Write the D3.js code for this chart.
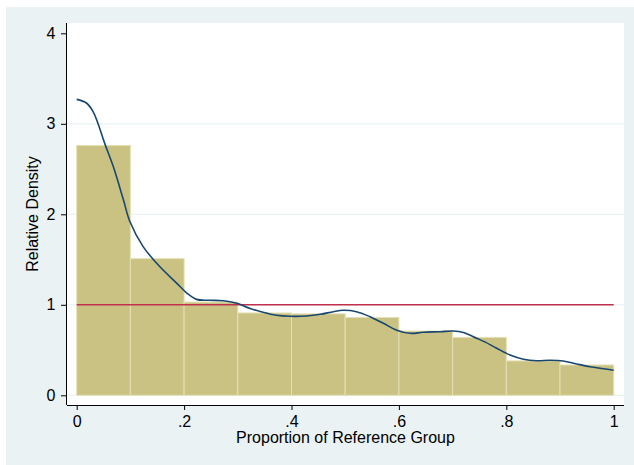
<!DOCTYPE html>
<html>
<head>
<meta charset="utf-8">
<script src="https://cdn.jsdelivr.net/npm/d3@7"></script>
<style>
  body { margin: 0; background: #fff; }
  text { font-family: "Liberation Sans", Arial, sans-serif; fill: #000; }
  .axis path, .axis line { stroke: #000; }
</style>
</head>
<body>
<svg width="634" height="465"></svg>
<script>
// histogram bins (left edge) and heights
var binStart = [0, 0.1, 0.2, 0.3, 0.4, 0.5, 0.6, 0.7, 0.8, 0.9];
var binHeight = [2.76, 1.51, 1.03, 0.91, 0.90, 0.86, 0.71, 0.64, 0.38, 0.335];

// relative density curve
var densX = [0, 0.018, 0.031, 0.053, 0.068, 0.087, 0.099, 0.124, 0.155, 0.186,
  0.205, 0.223, 0.248, 0.273, 0.298, 0.323, 0.347, 0.372, 0.397, 0.428,
  0.454, 0.478, 0.496, 0.521, 0.546, 0.571, 0.596, 0.621, 0.645, 0.677,
  0.701, 0.72, 0.745, 0.76, 0.782, 0.807, 0.832, 0.857, 0.881, 0.906,
  0.931, 0.956, 0.981, 1];
var densY = [3.27, 3.23, 3.13, 2.77, 2.53, 2.16, 1.92, 1.64, 1.42, 1.24,
  1.13, 1.06, 1.05, 1.045, 1.017, 0.96, 0.917, 0.884, 0.873, 0.876,
  0.895, 0.924, 0.939, 0.924, 0.869, 0.796, 0.72, 0.685, 0.696, 0.703,
  0.71, 0.695, 0.63, 0.59, 0.52, 0.445, 0.398, 0.382, 0.387, 0.379,
  0.346, 0.316, 0.294, 0.276];

var xTicks = [0, 0.2, 0.4, 0.6, 0.8, 1];
var xTickLabels = ["0", ".2", ".4", ".6", ".8", "1"];
var yTicks = [0, 1, 2, 3, 4];
var refLevel = 1;

var svg = d3.select("svg");

// graph region background
svg.append("rect")
    .attr("x", 6).attr("y", 7)
    .attr("width", 628).attr("height", 458)
    .attr("fill", "#eaf2f3");

// plot region
var plot = {left: 67, top: 23, right: 624, bottom: 405};
svg.append("rect")
    .attr("x", plot.left).attr("y", plot.top)
    .attr("width", plot.right - plot.left)
    .attr("height", plot.bottom - plot.top)
    .attr("fill", "#fff");

var x = d3.scaleLinear().domain([0, 1]).range([76.7, 613.7]),
    y = d3.scaleLinear().domain([0, 4]).range([395.3, 33.3]);

// gridlines
svg.append("g").selectAll("line")
    .data(yTicks.filter(function(d) { return d < 4; }))
  .enter().append("line")
    .attr("x1", plot.left).attr("x2", plot.right)
    .attr("y1", function(d) { return y(d); })
    .attr("y2", function(d) { return y(d); })
    .attr("stroke", "#eaf2f3")
    .attr("stroke-width", 1.2);

// histogram bars
svg.append("g").selectAll("rect")
    .data(binStart)
  .enter().append("rect")
    .attr("x", function(d) { return x(d); })
    .attr("width", function(d) { return x(d + 0.1) - x(d); })
    .attr("y", function(d, i) { return y(binHeight[i]); })
    .attr("height", function(d, i) { return y(0) - y(binHeight[i]); })
    .attr("fill", "#c9c283")
    .attr("stroke", "#e4e0b4")
    .attr("stroke-width", 1);

// reference line at 1
svg.append("line")
    .attr("x1", x(0)).attr("x2", x(1))
    .attr("y1", y(refLevel)).attr("y2", y(refLevel))
    .attr("stroke", "#c1304c")
    .attr("stroke-width", 1.5);

// density curve
var line = d3.line()
    .x(function(d) { return x(d); })
    .y(function(d, i) { return y(densY[i]); })
    .curve(d3.curveCatmullRom.alpha(0.5));

svg.append("path")
    .attr("d", line(densX))
    .attr("fill", "none")
    .attr("stroke", "#1a476f")
    .attr("stroke-width", 1.6);

// x axis
var xAxis = svg.append("g")
    .attr("class", "axis")
    .attr("transform", "translate(0," + plot.bottom + ")")
    .call(d3.axisBottom(x).tickValues(xTicks)
      .tickFormat(function(d, i) { return xTickLabels[i]; })
      .tickSizeInner(5).tickSizeOuter(0).tickPadding(5.5));
xAxis.select(".domain").attr("d", "M" + plot.left + ",0.5H" + plot.right);
xAxis.selectAll("text").style("font-size", "16px");

// y axis
var yAxis = svg.append("g")
    .attr("class", "axis")
    .attr("transform", "translate(" + plot.left + ",0)")
    .call(d3.axisLeft(y).tickValues(yTicks).tickFormat(d3.format("d"))
      .tickSizeInner(6).tickSizeOuter(0).tickPadding(5.5));
yAxis.select(".domain").attr("d", "M-0.5," + plot.top + "V" + plot.bottom);
yAxis.selectAll("text").style("font-size", "16px");

// axis titles
svg.append("text")
    .attr("x", (plot.left + plot.right) / 2)
    .attr("y", 443)
    .attr("text-anchor", "middle")
    .style("font-size", "16px")
    .text("Proportion of Reference Group");

svg.append("text")
    .attr("transform", "translate(38," + (plot.top + plot.bottom) / 2 + ") rotate(-90)")
    .attr("text-anchor", "middle")
    .style("font-size", "16px")
    .text("Relative Density");
</script>
</body>
</html>
